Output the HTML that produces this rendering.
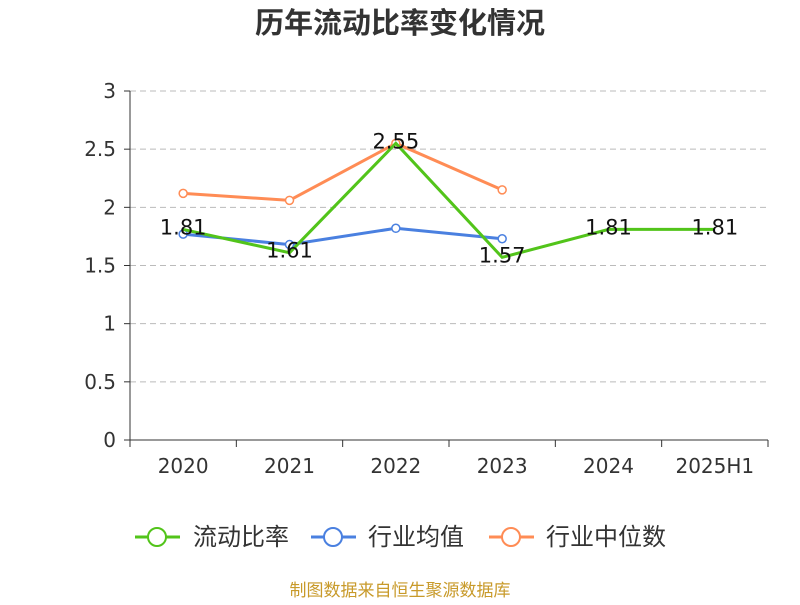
<!DOCTYPE html>
<html><head><meta charset="utf-8"><style>
body{margin:0;background:#fff;}
svg text{font-family:"DejaVu Sans","Noto Sans CJK SC",sans-serif;}
</style></head><body>
<svg width="800" height="600">
<text x="400" y="33" text-anchor="middle" font-size="29" font-weight="bold" fill="#333" style="font-family:'Noto Sans CJK SC',sans-serif">历年流动比率变化情况</text>
<g id="grid"></g><g id="axes"></g><g id="series"></g>
<g>
<g><line x1="135" y1="537" x2="180" y2="537" stroke="#52c41a" stroke-width="3"/><circle cx="157" cy="537" r="9" fill="#fff" stroke="#52c41a" stroke-width="2"/><text x="193" y="545" font-size="24" fill="#333" style="font-family:'Noto Sans CJK SC',sans-serif">流动比率</text></g>
<g><line x1="311" y1="537" x2="356" y2="537" stroke="#4a80e0" stroke-width="3"/><circle cx="333" cy="537" r="9" fill="#fff" stroke="#4a80e0" stroke-width="2"/><text x="368" y="545" font-size="24" fill="#333" style="font-family:'Noto Sans CJK SC',sans-serif">行业均值</text></g>
<g><line x1="489" y1="537" x2="534" y2="537" stroke="#ff8c55" stroke-width="3"/><circle cx="511" cy="537" r="9" fill="#fff" stroke="#ff8c55" stroke-width="2"/><text x="546" y="545" font-size="24" fill="#333" style="font-family:'Noto Sans CJK SC',sans-serif">行业中位数</text></g>
</g>
<text x="400" y="596" text-anchor="middle" font-size="17" fill="#c89a2a" style="font-family:'Noto Sans CJK SC',sans-serif">制图数据来自恒生聚源数据库</text>
</svg>
<script>
const categories=["2020","2021","2022","2023","2024","2025H1"];
const ratio=[1.81,1.61,2.55,1.57,1.81,1.81];
const industryAvg=[1.77,1.68,1.82,1.73,null,null];
const industryMedian=[2.12,2.06,2.55,2.15,null,null];
const yTicks=[0,0.5,1,1.5,2,2.5,3];
const NS="http://www.w3.org/2000/svg";
const x0=130,x1=768,yb=440,yt=91,ymax=3;
const bw=(x1-x0)/categories.length;
const X=i=>x0+bw*(i+0.5);
const Y=v=>yb-(v/ymax)*(yb-yt);
function mk(tag,attrs,parent,txt){const e=document.createElementNS(NS,tag);for(const k in attrs)e.setAttribute(k,attrs[k]);if(txt!==undefined)e.textContent=txt;document.getElementById(parent).appendChild(e);return e;}
yTicks.forEach(t=>{
 if(t>0){const g=mk('line',{x1:x0,x2:x1,y1:Y(t),y2:Y(t),stroke:'#bbb','stroke-dasharray':'6,4'},'grid');
 
 }
 const tk=mk('line',{x1:x0-6,x2:x0,y1:Y(t),y2:Y(t),stroke:'#333'},'axes');
 
 
 const l=mk('text',{x:x0-14,y:Y(t)+7,'text-anchor':'end','font-size':20,fill:'#333'},'axes',String(t));
 
 
});
const ya=mk('line',{x1:x0,x2:x0,y1:yt,y2:yb,stroke:'#333'},'axes');


const xa=mk('line',{x1:x0,x2:x1,y1:yb,y2:yb,stroke:'#333'},'axes');


for(let i=0;i<=categories.length;i++){const t=mk('line',{x1:x0+bw*i,x2:x0+bw*i,y1:yb,y2:yb+7,stroke:'#333'},'axes');
 
 }
categories.forEach((c,i)=>{const l=mk('text',{x:X(i),y:473,'text-anchor':'middle','font-size':20,fill:'#333'},'axes',c);
 
 });
function series(vals,color,name,markers,labels){
 const pts=vals.map((v,i)=>v==null?null:[X(i),Y(v)]).filter(p=>p);
 const p=mk('polyline',{points:pts.map(p=>p.join(',')).join(' '),fill:'none',stroke:color,'stroke-width':3},'series');
 
 
 vals.forEach((v,i)=>{if(v==null)return;
  if(markers){const c=mk('circle',{cx:X(i),cy:Y(v),r:4,fill:'#fff',stroke:color,'stroke-width':1.5},'series');
   
   }
  if(labels){const t=mk('text',{x:X(i),y:Y(v)+5,'text-anchor':'middle','font-size':21,fill:'#111'},'series',v.toFixed(2));
   
   }
 });
}
series(industryMedian,'#ff8c55','industry-median',true,false);
series(industryAvg,'#4a80e0','industry-avg',true,false);
series(ratio,'#52c41a','current-ratio',false,true);
</script>
</body></html>
